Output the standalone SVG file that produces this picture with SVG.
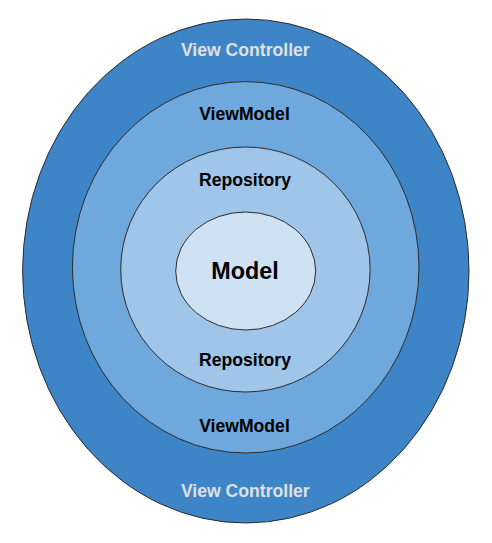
<svg xmlns="http://www.w3.org/2000/svg" width="492" height="543" viewBox="0 0 492 543">
<style>
.ring{stroke:#2b2b2b;stroke-width:1}
.lbl{font-family:"Liberation Sans",Arial,sans-serif;font-weight:bold;text-anchor:middle;font-size:17.6px;fill:#000}
.light{fill:#e0e0e0}
</style>
<rect width="492" height="543" fill="#fff"/>
<g id="view-controller">
<ellipse class="ring" cx="245.8" cy="271" rx="223.2" ry="252" fill="#3d85c6"/>
<text class="lbl light" x="245.3" y="56">View Controller</text>
<text class="lbl light" x="245.3" y="497">View Controller</text>
</g>
<g id="viewmodel">
<ellipse class="ring" cx="245.7" cy="267.3" rx="173.3" ry="185.7" fill="#6fa8dc"/>
<text class="lbl" x="244.5" y="120">ViewModel</text>
<text class="lbl" x="244.5" y="432">ViewModel</text>
</g>
<g id="repository">
<ellipse class="ring" cx="245.4" cy="269.5" rx="124.7" ry="122.5" fill="#9fc5e8"/>
<text class="lbl" x="245" y="186">Repository</text>
<text class="lbl" x="245" y="366">Repository</text>
</g>
<g id="model">
<ellipse class="ring" cx="245.7" cy="271" rx="70" ry="59" fill="#cfe2f3"/>
<text class="lbl" x="245" y="278.7" style="font-size:23.3px">Model</text>
</g>
<g id="connectors"/>
</svg>
